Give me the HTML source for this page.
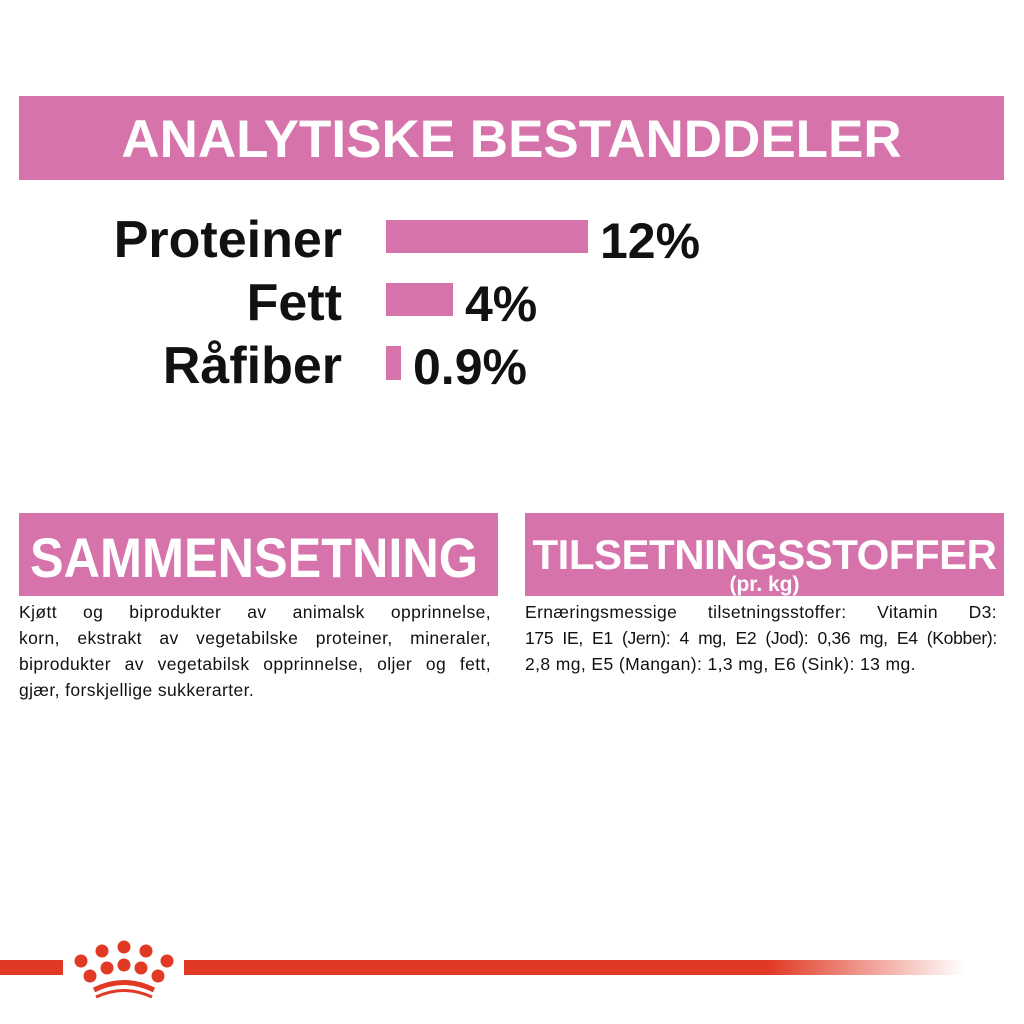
<!DOCTYPE html>
<html><head><meta charset="utf-8"><style>
body{margin:0;width:1024px;height:1024px;background:#fff;position:relative;overflow:hidden;font-family:"Liberation Sans","DejaVu Sans",sans-serif;}
.a{position:absolute}
.band{background:#d673ab;color:#fff;font-weight:bold;text-align:center;white-space:nowrap;overflow:hidden}
.lab{position:absolute;right:682px;font-weight:bold;font-size:52px;color:#111;line-height:1}
.val{position:absolute;font-weight:bold;font-size:50px;color:#111;line-height:1}
.bar{position:absolute;background:#d673ab;left:386px}
.txt{position:absolute;font-size:17.5px;line-height:26px;color:#111;letter-spacing:0.4px}
.txt div{text-align:justify;text-align-last:justify;white-space:nowrap}
.txt div.l{text-align-last:left}
</style></head><body>
<div class="a band" style="left:19px;top:96px;width:985px;height:84px;font-size:53px;line-height:88px">ANALYTISKE BESTANDDELER</div>

<div class="lab" style="top:214px">Proteiner</div>
<div class="bar" style="top:220px;width:202px;height:33px"></div>
<div class="val" style="left:600px;top:216px">12%</div>

<div class="lab" style="top:277px">Fett</div>
<div class="bar" style="top:283px;width:67px;height:33px"></div>
<div class="val" style="left:465px;top:279px">4%</div>

<div class="lab" style="top:340px">Råfiber</div>
<div class="bar" style="top:346px;width:15px;height:34px"></div>
<div class="val" style="left:413px;top:342px">0.9%</div>

<div class="a band" style="left:19px;top:513px;width:479px;height:83px;font-size:56px;line-height:90px;text-align:left"><span style="position:absolute;left:11px;top:0;display:inline-block;transform:scaleX(0.9);transform-origin:0 0">SAMMENSETNING</span></div>
<div class="a band" style="left:525px;top:513px;width:479px;height:83px">
<div style="font-size:42px;line-height:40px;margin-top:22px;letter-spacing:-0.5px">TILSETNINGSSTOFFER</div>
<div style="font-size:21px;line-height:20px">(pr. kg)</div></div>

<div class="txt" style="left:19px;top:599px;width:472px">
<div>Kjøtt og biprodukter av animalsk opprinnelse,</div>
<div>korn, ekstrakt av vegetabilske proteiner, mineraler,</div>
<div>biprodukter av vegetabilsk opprinnelse, oljer og fett,</div>
<div class="l">gjær, forskjellige sukkerarter.</div>
</div>
<div class="txt" style="left:525px;top:599px;width:472px">
<div>Ernæringsmessige tilsetningsstoffer: Vitamin D3:</div>
<div style="letter-spacing:-0.3px">175 IE, E1 (Jern): 4 mg, E2 (Jod): 0,36 mg, E4 (Kobber):</div>
<div class="l">2,8 mg, E5 (Mangan): 1,3 mg, E6 (Sink): 13 mg.</div>
</div>

<div class="a" style="left:0;top:960px;width:63px;height:15px;background:#e03a25"></div>
<div class="a" style="left:184px;top:960px;width:780px;height:15px;background:linear-gradient(90deg,#e03a25 0%,#e03a25 75%,rgba(224,58,37,0) 100%)"></div>
<svg class="a" style="left:70px;top:935px" width="110" height="65" viewBox="0 0 110 65">
<g fill="#e03a25">
<circle cx="11" cy="26" r="6.5"/><circle cx="32" cy="16" r="6.5"/><circle cx="54" cy="12" r="6.5"/><circle cx="76" cy="16" r="6.5"/><circle cx="97" cy="26" r="6.5"/>
<circle cx="20" cy="41" r="6.5"/><circle cx="37" cy="33" r="6.5"/><circle cx="54" cy="30" r="6.5"/><circle cx="71" cy="33" r="6.5"/><circle cx="88" cy="41" r="6.5"/>
</g>
<path d="M24 55 Q54 40 84 55" stroke="#e03a25" stroke-width="5" fill="none"/>
<path d="M26 62 Q54 49 82 62" stroke="#e03a25" stroke-width="3" fill="none"/>
</svg>
</body></html>
